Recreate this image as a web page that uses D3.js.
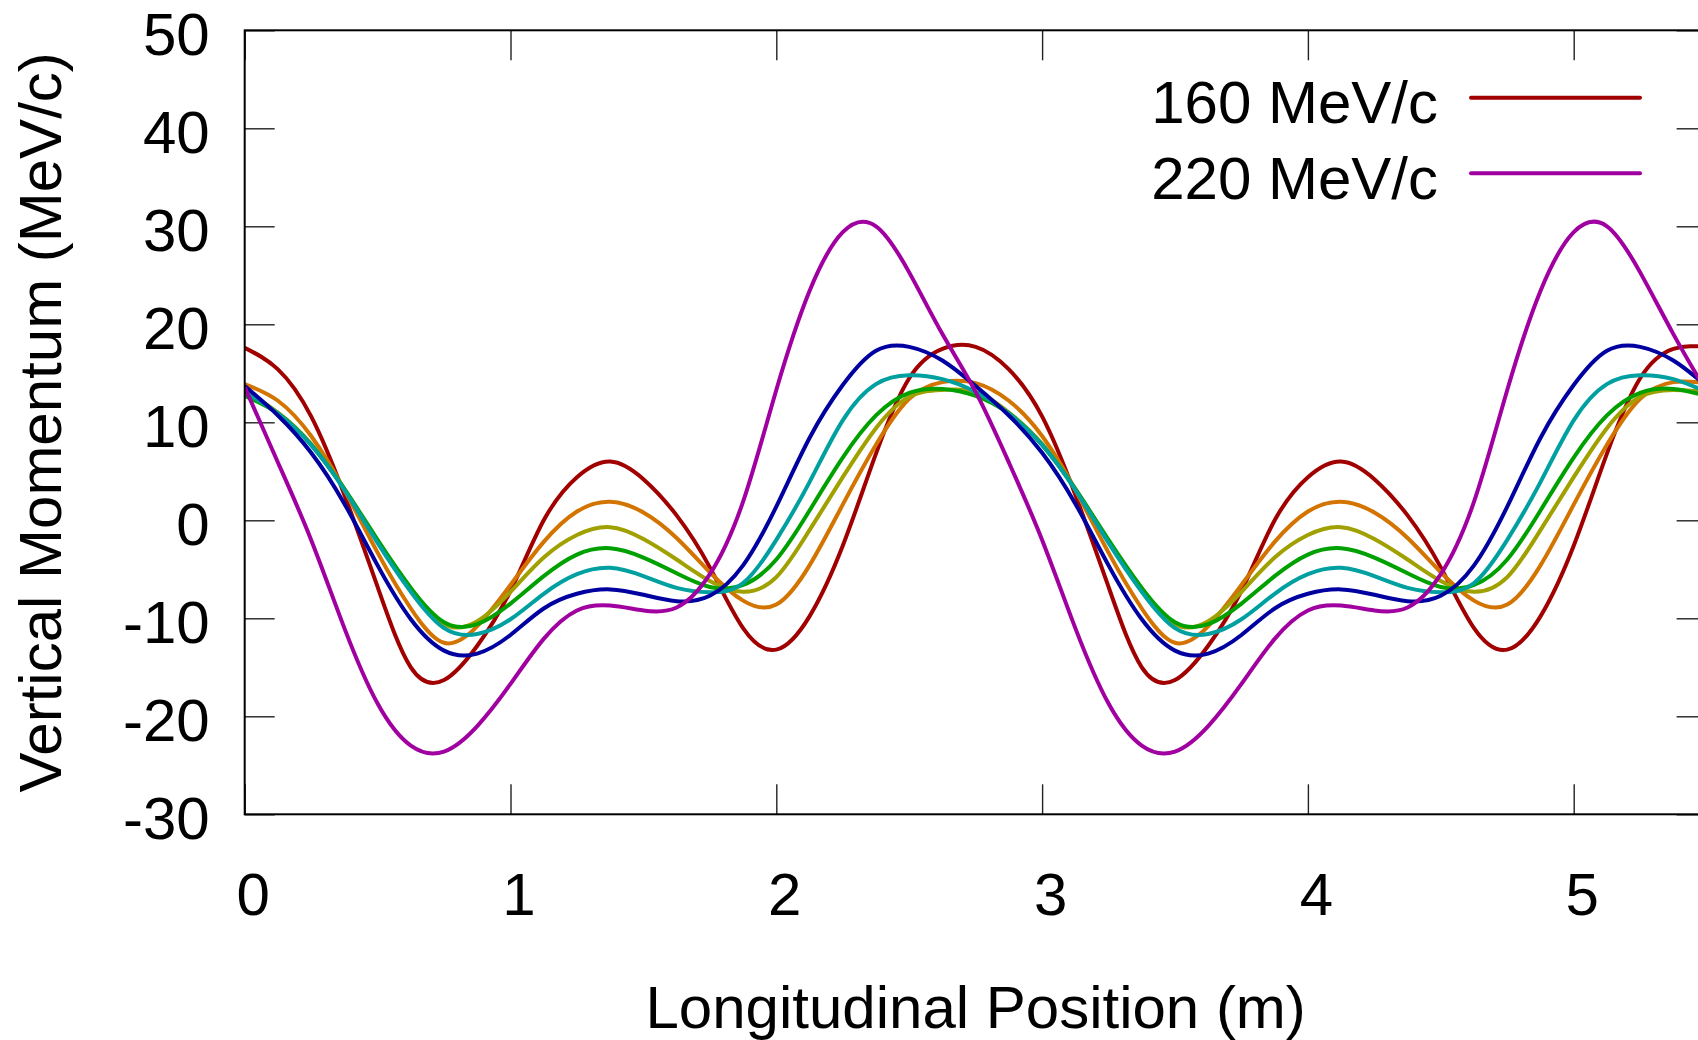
<!DOCTYPE html>
<html>
<head>
<meta charset="utf-8">
<script src="https://cdn.jsdelivr.net/npm/d3@7"></script>
<style>
html, body { margin: 0; padding: 0; background: #ffffff; }
svg { display: block; }
text { font-family: "Liberation Sans", Arial, sans-serif; }
</style>
</head>
<body>
<svg id="chart" width="1698" height="1040"></svg>
<script>
// ---------- data ----------
const positions = [0, 0.125, 0.25, 0.375, 0.5, 0.625, 0.75, 0.875, 1, 1.125, 1.25, 1.375, 1.5, 1.625, 1.75, 1.875,
  2, 2.125, 2.25, 2.375, 2.5, 2.625, 2.75, 2.875, 3, 3.125, 3.25, 3.375, 3.5, 3.625, 3.75, 3.875,
  4, 4.125, 4.25, 4.375, 4.5, 4.625, 4.75, 4.875, 5, 5.125, 5.25, 5.375, 5.5];

const mom160 = [17.6, 15.4, 10.6, 2.6, -6.8, -15.0, -16.3, -12.8, -7.2, 0.0, 4.4, 6.0, 4.2, 0.5, -4.8, -11.0,
  -13.2, -9.8, -2.6, 6.8, 14.5, 17.5, 17.7, 15.4, 10.6, 2.6, -6.8, -15.0, -16.3, -12.8, -7.2, 0.0,
  4.4, 6.0, 4.2, 0.5, -4.8, -11.0, -13.2, -9.8, -2.6, 6.8, 14.5, 17.5, 17.7];
const mom170 = [13.9, 12.2, 8.6, 3.1, -3.3, -9.0, -12.5, -10.8, -6.6, -2.2, 0.9, 1.9, 0.8, -1.8, -5.3, -8.2,
  -8.6, -4.6, 1.6, 7.7, 12.4, 14.1, 14.0, 12.2, 8.6, 3.1, -3.3, -9.0, -12.5, -10.8, -6.6, -2.2,
  0.9, 1.9, 0.8, -1.8, -5.3, -8.2, -8.6, -4.6, 1.6, 7.7, 12.4, 14.1, 14.0];
const mom180 = [13.2, 11.0, 7.8, 3.2, -2.1, -7.0, -10.6, -10.3, -7.3, -3.8, -1.5, -0.7, -1.9, -4.0, -6.2, -7.3,
  -5.8, -1.0, 4.4, 9.4, 12.6, 13.3, 13.1, 11.0, 7.8, 3.2, -2.1, -7.0, -10.6, -10.3, -7.3, -3.8,
  -1.5, -0.7, -1.9, -4.0, -6.2, -7.3, -5.8, -1.0, 4.4, 9.4, 12.6, 13.3, 13.1];
const mom190 = [12.7, 10.9, 7.7, 3.2, -2.0, -6.9, -10.4, -10.6, -8.5, -5.7, -3.5, -2.85, -3.8, -5.4, -6.8, -6.6,
  -4.0, 1.0, 6.4, 10.7, 13.0, 13.4, 12.7, 10.9, 7.7, 3.2, -2.0, -6.9, -10.4, -10.6, -8.5, -5.7,
  -3.5, -2.85, -3.8, -5.4, -6.8, -6.6, -4.0, 1.0, 6.4, 10.7, 13.0, 13.4, 12.7];
const mom200 = [13.1, 10.9, 7.7, 3.1, -2.3, -7.3, -11.0, -11.6, -10.1, -7.5, -5.5, -4.85, -5.7, -6.9, -7.35, -6.4,
  -2.0, 3.9, 10.2, 13.9, 14.8, 14.4, 13.1, 10.9, 7.7, 3.1, -2.3, -7.3, -11.0, -11.6, -10.1, -7.5,
  -5.5, -4.85, -5.7, -6.9, -7.35, -6.4, -2.0, 3.9, 10.2, 13.9, 14.8, 14.4, 13.1];
const mom210 = [13.7, 10.7, 6.9, 1.7, -4.6, -10.1, -13.3, -13.6, -11.7, -9.0, -7.5, -7.05, -7.6, -8.25, -7.7, -4.6,
  1.4, 8.4, 13.8, 17.3, 17.7, 16.3, 13.7, 10.7, 6.9, 1.7, -4.6, -10.1, -13.3, -13.6, -11.7, -9.0,
  -7.5, -7.05, -7.6, -8.25, -7.7, -4.6, 1.4, 8.4, 13.8, 17.3, 17.7, 16.3, 13.7];
const mom220 = [13.6, 5.9, -2.0, -11.0, -18.7, -23.0, -23.6, -21.0, -16.7, -12.1, -9.2, -8.7, -9.2, -8.9, -5.5, 1.9,
  13.3, 23.4, 29.4, 30.0, 25.3, 19.0, 13.1, 5.9, -2.0, -11.0, -18.7, -23.0, -23.6, -21.0, -16.7, -12.1,
  -9.2, -8.7, -9.2, -8.9, -5.5, 1.9, 13.3, 23.4, 29.4, 30.0, 25.3, 19.0, 13.1];

const seriesNames = ["160 MeV/c", "170 MeV/c", "180 MeV/c", "190 MeV/c", "200 MeV/c", "210 MeV/c", "220 MeV/c"];
const seriesValues = [mom160, mom170, mom180, mom190, mom200, mom210, mom220];
const seriesColors = ["#a00000", "#d37300", "#a0a000", "#00a000", "#00a0a0", "#0000a0", "#a000a0"];
const legendNames = ["160 MeV/c", "220 MeV/c"];

const xTicks = [0, 1, 2, 3, 4, 5];
const yTicks = [-30, -20, -10, 0, 10, 20, 30, 40, 50];
const xDomain = [0, 5.5];
const yDomain = [-30, 50];
const xTitle = "Longitudinal Position (m)";
const yTitle = "Vertical Momentum (MeV/c)";

// ---------- layout ----------
const W = 1698, H = 1040;
const plotLeft = 244.7, plotRight = 1706.6, plotTop = 30.3, plotBottom = 814.3;
const FONT = 60;

const svg = d3.select("#chart");
svg.append("rect").attr("width", W).attr("height", H).attr("fill", "#ffffff");

const x = d3.scaleLinear().domain(xDomain).range([plotLeft, plotRight]);
const y = d3.scaleLinear().domain(yDomain).range([plotBottom, plotTop]);

svg.append("defs").append("clipPath").attr("id", "plotClip")
  .append("rect").attr("x", plotLeft).attr("y", plotTop)
  .attr("width", plotRight - plotLeft).attr("height", plotBottom - plotTop);

const plainNum = d => String(d);   // ASCII hyphen-minus like the reference

function styleAxis(g) {
  g.select(".domain").remove();
  g.selectAll(".tick line").attr("stroke", "#222").attr("stroke-width", 1.4);
  g.attr("font-family", null).attr("font-size", null);
  g.selectAll(".tick text").attr("fill", "#000").style("font-size", FONT + "px");
}

// bottom axis with labels
const gBottom = svg.append("g").attr("transform", `translate(0,${plotBottom})`)
  .call(d3.axisBottom(x).tickValues(xTicks).tickFormat(plainNum)
    .tickSizeInner(-30).tickSizeOuter(0).tickPadding(58));
styleAxis(gBottom);
gBottom.selectAll(".tick text").attr("dx", 8);

// top mirror ticks
const gTop = svg.append("g").attr("transform", `translate(0,${plotTop})`)
  .call(d3.axisTop(x).tickValues(xTicks).tickFormat("").tickSizeInner(-30).tickSizeOuter(0));
styleAxis(gTop);

// left axis with labels
const gLeft = svg.append("g").attr("transform", `translate(${plotLeft},0)`)
  .call(d3.axisLeft(y).tickValues(yTicks).tickFormat(plainNum)
    .tickSizeInner(-30).tickSizeOuter(0).tickPadding(35));
styleAxis(gLeft);
gLeft.selectAll(".tick text").attr("dy", "0.41em");

// right mirror ticks
const gRight = svg.append("g").attr("transform", `translate(${plotRight},0)`)
  .call(d3.axisRight(y).tickValues(yTicks).tickFormat("").tickSizeInner(-30).tickSizeOuter(0));
styleAxis(gRight);

// curves
const line = d3.line()
  .x((d, i) => x(positions[i]))
  .y(d => y(d))
  .curve(d3.curveNatural);

const gLines = svg.append("g").attr("clip-path", "url(#plotClip)");
seriesValues.forEach((vals, k) => {
  gLines.append("path")
    .datum(vals)
    .attr("d", line)
    .attr("fill", "none")
    .attr("stroke", seriesColors[k])
    .attr("stroke-width", 4)
    .attr("stroke-linejoin", "round");
});

// border
svg.append("rect")
  .attr("x", plotLeft).attr("y", plotTop)
  .attr("width", plotRight - plotLeft).attr("height", plotBottom - plotTop)
  .attr("fill", "none").attr("stroke", "#000").attr("stroke-width", 2);

// legend
const legendY = [123.3, 199];
const lineY = [97.7, 173.3];
legendNames.forEach((name, i) => {
  const k = seriesNames.indexOf(name);
  svg.append("text").attr("x", 1438).attr("y", legendY[i])
    .attr("text-anchor", "end").style("font-size", FONT + "px").attr("fill", "#000")
    .text(name);
  svg.append("line").attr("x1", 1471).attr("x2", 1640)
    .attr("y1", lineY[i]).attr("y2", lineY[i])
    .attr("stroke", seriesColors[k]).attr("stroke-width", 4).attr("stroke-linecap", "round");
});

// axis titles
svg.append("text")
  .attr("x", (plotLeft + plotRight) / 2).attr("y", 1028)
  .attr("text-anchor", "middle").style("font-size", FONT + "px").attr("fill", "#000")
  .text(xTitle);

svg.append("text")
  .attr("transform", `translate(61,${(plotTop + plotBottom) / 2}) rotate(-90)`)
  .attr("text-anchor", "middle").style("font-size", FONT + "px").attr("fill", "#000")
  .text(yTitle);
</script>
</body>
</html>
